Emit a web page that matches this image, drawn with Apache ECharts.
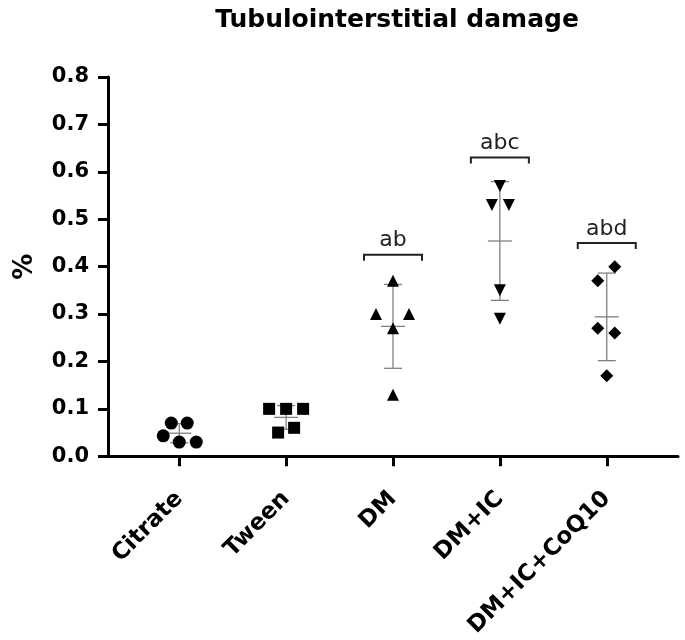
<!DOCTYPE html>
<html>
<head>
<meta charset="UTF-8">
<title>Tubulointerstitial damage</title>
<script src="https://cdn.jsdelivr.net/npm/echarts@6/dist/echarts.min.js"></script>
<style>
  body { margin: 0; background: #fff; }
  #chart { width: 685px; height: 640px; }
</style>
</head>
<body>
<div id="chart"></div>
<script>
// groups and individual values (% damage)
var groups = ['Citrate', 'Tween', 'DM', 'DM+IC', 'DM+IC+CoQ10'];
var citrate = [0.07, 0.07, 0.043, 0.03, 0.03];
var tween = [0.10, 0.10, 0.10, 0.05, 0.06];
var dm = [0.37, 0.30, 0.30, 0.27, 0.13];
var dmIc = [0.57, 0.53, 0.53, 0.35, 0.29];
var dmIcCoq = [0.40, 0.37, 0.27, 0.26, 0.17];
// significance letters and bracket height
var sigLabels = ['', '', 'ab', 'abc', 'abd'];
var sigLevel = [null, null, 0.425, 0.63, 0.45];

// horizontal jitter of the dots, in pixels
var jitter = [[-8, 8, -16, 0, 17], [-17, 0, 17, -8, 8], [0, -17, 16, 0, 0], [0, -8, 9, 0, 0], [8, -9, -9, 8, 0]];
var symbols = ['circle', 'rect', 'triangle', 'triangle', 'diamond'];
var symSize = [13, 12, 12, 12, 13];
var symRot = [0, 0, 0, 180, 0];

var allValues = [citrate, tween, dm, dmIc, dmIcCoq];

function meanSd(arr) {
    var m = arr.reduce(function (a, b) { return a + b; }, 0) / arr.length;
    var v = arr.reduce(function (a, b) { return a + (b - m) * (b - m); }, 0) / (arr.length - 1);
    return [m, Math.sqrt(v)];
}

var errData = allValues.map(function (arr, i) {
    var s = meanSd(arr);
    return [i, s[0], s[0] - s[1], s[0] + s[1]];
});

var bracketData = [];
sigLevel.forEach(function (y, i) {
    if (y !== null) bracketData.push([i, y]);
});

var font = 'DejaVu Sans';

var series = allValues.map(function (arr, i) {
    return {
        type: 'scatter',
        z: 5,
        symbol: symbols[i],
        symbolSize: symSize[i],
        symbolRotate: symRot[i],
        itemStyle: { color: '#000', opacity: 1 },
        data: arr.map(function (v, j) {
            return { value: [i, v], symbolOffset: [jitter[i][j], 0] };
        })
    };
});

series.push({
    type: 'custom',
    z: 2,
    data: errData,
    renderItem: function (params, api) {
        var x = api.value(0);
        var pm = api.coord([x, api.value(1)]);
        var pl = api.coord([x, api.value(2)]);
        var ph = api.coord([x, api.value(3)]);
        var st = { stroke: '#808080', lineWidth: 1.3 };
        return {
            type: 'group',
            children: [
                { type: 'line', shape: { x1: pm[0], y1: ph[1], x2: pm[0], y2: pl[1] }, style: st },
                { type: 'line', shape: { x1: pm[0] - 12, y1: pm[1], x2: pm[0] + 12, y2: pm[1] }, style: st },
                { type: 'line', shape: { x1: pm[0] - 9, y1: ph[1], x2: pm[0] + 9, y2: ph[1] }, style: st },
                { type: 'line', shape: { x1: pm[0] - 9, y1: pl[1], x2: pm[0] + 9, y2: pl[1] }, style: st }
            ]
        };
    }
});

series.push({
    type: 'custom',
    z: 3,
    data: bracketData,
    renderItem: function (params, api) {
        var p = api.coord([api.value(0), api.value(1)]);
        var idx = bracketData[params.dataIndex][0];
        return {
            type: 'group',
            children: [
                {
                    type: 'polyline',
                    shape: { points: [[p[0] - 29, p[1] + 6], [p[0] - 29, p[1]], [p[0] + 29, p[1]], [p[0] + 29, p[1] + 6]] },
                    style: { stroke: '#222', lineWidth: 2, fill: null }
                },
                {
                    type: 'text',
                    x: p[0], y: p[1] - 14,
                    style: {
                        text: sigLabels[idx],
                        font: '22px "DejaVu Sans"',
                        fill: '#222',
                        align: 'center',
                        verticalAlign: 'middle'
                    }
                }
            ]
        };
    }
});

var chart = echarts.init(document.getElementById('chart'));
chart.setOption({
    animation: false,
    title: {
        text: 'Tubulointerstitial damage',
        left: 392,
        top: 3,
        textAlign: 'center',
        textStyle: { fontFamily: font, fontWeight: 'bold', fontSize: 25, color: '#000' }
    },
    grid: { left: 108, right: 7, top: 77, bottom: 183 },
    xAxis: {
        type: 'value',
        min: -2 / 3,
        max: 14 / 3,
        splitLine: { show: false },
        axisLine: { onZero: false, lineStyle: { color: '#000', width: 3 } },
        axisTick: { customValues: [0, 1, 2, 3, 4], length: 10, lineStyle: { color: '#000', width: 3 } },
        axisLabel: {
            customValues: [0, 1, 2, 3, 4],
            formatter: function (v) { return groups[Math.round(v)]; },
            rotate: 45,
            margin: 39,
            fontFamily: font,
            fontWeight: 'bold',
            fontSize: 23,
            color: '#000'
        }
    },
    yAxis: {
        type: 'value',
        min: 0,
        max: 0.8,
        interval: 0.1,
        name: '%',
        nameLocation: 'middle',
        nameGap: 70,
        nameTextStyle: { fontFamily: font, fontWeight: 'bold', fontSize: 26, color: '#000' },
        splitLine: { show: false },
        axisLine: { show: true, onZero: false, lineStyle: { color: '#000', width: 3 } },
        axisTick: { show: true, length: 10, lineStyle: { color: '#000', width: 3 } },
        axisLabel: {
            margin: 19,
            formatter: function (v) { return v.toFixed(1); },
            fontFamily: font,
            fontWeight: 'bold',
            fontSize: 21,
            color: '#000'
        }
    },
    series: series
});
</script>
</body>
</html>
